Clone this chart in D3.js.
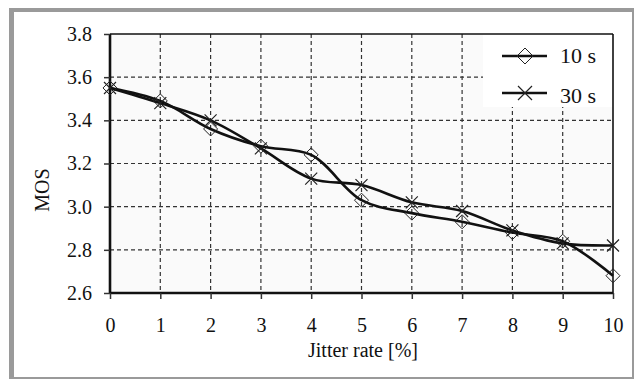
<!DOCTYPE html>
<html>
<head>
<meta charset="utf-8">
<script src="https://cdn.jsdelivr.net/npm/d3@7"></script>
<style>
  body { margin: 0; background: #fff; }
  svg { display: block; }
</style>
</head>
<body>
<div id="viz"></div>
<script>
// data
var jitter = [0, 1, 2, 3, 4, 5, 6, 7, 8, 9, 10];
var mos10 = [3.55, 3.49, 3.36, 3.28, 3.24, 3.03, 2.97, 2.93, 2.88, 2.84, 2.68];
var mos30 = [3.55, 3.48, 3.40, 3.27, 3.13, 3.10, 3.02, 2.98, 2.89, 2.83, 2.82];
var yTicks = [2.6, 2.8, 3.0, 3.2, 3.4, 3.6, 3.8];
var seriesNames = ["10 s", "30 s"];

var FONT = "Liberation Serif";
var W = 640, H = 380;
var margin = {top: 34, right: 27, bottom: 87, left: 110};
var width = W - margin.left - margin.right;
var height = H - margin.top - margin.bottom;

var svg = d3.select("#viz").append("svg")
    .attr("width", W)
    .attr("height", H)
    .attr("font-family", FONT);

// grey frame round the figure
svg.append("rect").attr("x", 9).attr("y", 8).attr("width", 625).attr("height", 371).attr("fill", "#9a9a9a");
svg.append("rect").attr("x", 14).attr("y", 12).attr("width", 618).attr("height", 365).attr("fill", "#fff");

var g = svg.append("g").attr("transform", "translate(" + margin.left + "," + margin.top + ")");

var x = d3.scaleLinear().domain([0, 10]).range([0, width]);
var y = d3.scaleLinear().domain([2.6, 3.8]).range([height, 0]);

g.append("rect").attr("width", width).attr("height", height).attr("fill", "#fafafa");

// dashed grid
g.selectAll(".vgrid").data(jitter.slice(1, -1))
  .enter().append("line")
    .attr("x1", d => x(d)).attr("x2", d => x(d))
    .attr("y1", 0).attr("y2", height)
    .attr("stroke", "#333").attr("stroke-width", 1.2)
    .attr("stroke-dasharray", "4,3");
g.selectAll(".hgrid").data(yTicks.slice(1, -1))
  .enter().append("line")
    .attr("x1", 0).attr("x2", width)
    .attr("y1", d => y(d)).attr("y2", d => y(d))
    .attr("stroke", "#333").attr("stroke-width", 1.2)
    .attr("stroke-dasharray", "4,3");

// legend box (white, covers grid)
var leg = g.append("g").attr("transform", "translate(" + (width - 130) + ",0)");
leg.append("rect").attr("width", 130).attr("height", 73).attr("fill", "#fff");

// frame: top/right thin, left/bottom thick
g.append("line").attr("x1", 0).attr("x2", width).attr("y1", 0).attr("y2", 0).attr("stroke", "#111").attr("stroke-width", 1.6);
g.append("line").attr("x1", width).attr("x2", width).attr("y1", 0).attr("y2", height).attr("stroke", "#111").attr("stroke-width", 1.6);

var xAxis = g.append("g").attr("transform", "translate(0," + height + ")")
    .call(d3.axisBottom(x).tickValues(jitter).tickSize(6).tickPadding(19).tickFormat(d3.format("d")));
var yAxis = g.append("g")
    .call(d3.axisLeft(y).tickValues(yTicks).tickSize(6).tickPadding(12).tickFormat(d3.format(".1f")));

[xAxis, yAxis].forEach(function(a) {
  a.attr("font-family", FONT).attr("font-size", 20);
  a.select(".domain").attr("stroke", "#111").attr("stroke-width", 2.6);
  a.selectAll(".tick line").attr("stroke", "#333").attr("stroke-width", 1.5);
  a.selectAll(".tick text").attr("fill", "#111");
});
xAxis.select(".domain").attr("d", "M0,0H" + width);
yAxis.select(".domain").attr("d", "M0," + height + "V0");

// lines
var line = d3.line().curve(d3.curveCatmullRom.alpha(0.5));

function diamond(sel, r) {
  sel.append("path")
    .attr("d", "M0," + (-r) + "L" + r + ",0L0," + r + "L" + (-r) + ",0Z")
    .attr("fill", "none").attr("stroke", "#222").attr("stroke-width", 1);
}
function cross(sel, r) {
  sel.append("path")
    .attr("d", "M" + (-r) + "," + (-r) + "L" + r + "," + r + "M" + (-r) + "," + r + "L" + r + "," + (-r))
    .attr("fill", "none").attr("stroke", "#222").attr("stroke-width", 1.2);
}

var series = [mos10, mos30];
series.forEach(function(vals) {
  g.append("path")
    .attr("d", line(jitter.map((j, i) => [x(j), y(vals[i])])))
    .attr("fill", "none").attr("stroke", "#111").attr("stroke-width", 2.6);
});

jitter.forEach(function(j, i) {
  g.append("g").attr("transform", "translate(" + x(j) + "," + y(mos10[i]) + ")").call(diamond, 7);
  g.append("g").attr("transform", "translate(" + x(j) + "," + y(mos30[i]) + ")").call(cross, 6);
});

// legend entries
var markers = [diamond, cross];
var rowY = [22, 59], textY = [29, 69];
seriesNames.forEach(function(name, i) {
  leg.append("line").attr("x1", 19).attr("x2", 64).attr("y1", rowY[i]).attr("y2", rowY[i])
    .attr("stroke", "#111").attr("stroke-width", 2.6);
  leg.append("g").attr("transform", "translate(42," + rowY[i] + ")").call(markers[i], i === 0 ? 8 : 7);
  leg.append("text").attr("x", 77).attr("y", textY[i]).attr("font-family", FONT)
    .attr("font-size", 22).attr("fill", "#111").text(name);
});

// axis titles
svg.append("text")
  .attr("x", 363).attr("y", 357)
  .attr("text-anchor", "middle").attr("font-family", FONT).attr("font-size", 20).attr("fill", "#111")
  .text("Jitter rate [%]");
svg.append("text")
  .attr("transform", "translate(49,190) rotate(-90)")
  .attr("text-anchor", "middle").attr("font-family", FONT).attr("font-size", 20).attr("fill", "#111")
  .text("MOS");
</script>
</body>
</html>
